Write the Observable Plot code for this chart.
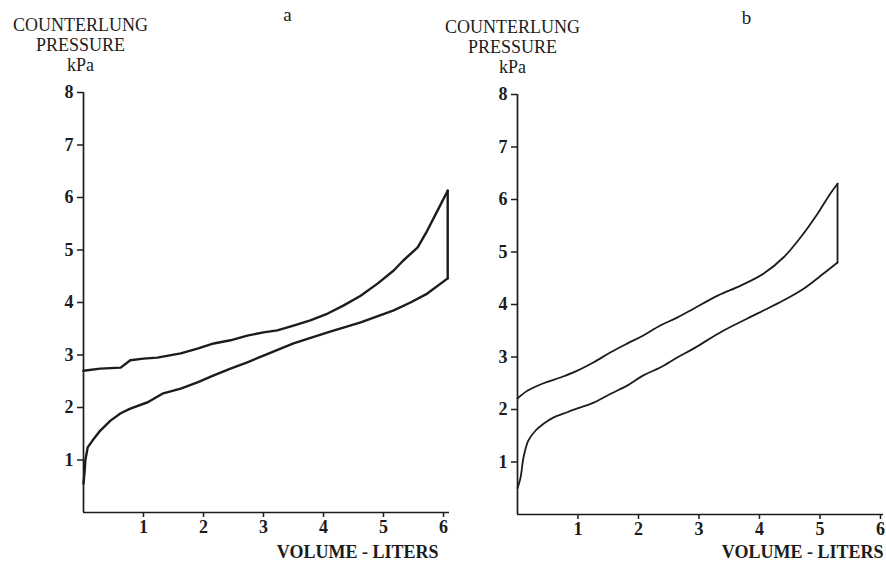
<!DOCTYPE html>
<html><head><meta charset="utf-8">
<script src="https://cdn.jsdelivr.net/npm/d3@7"></script>
<script src="https://cdn.jsdelivr.net/npm/@observablehq/plot@0.6"></script>
<style>
html,body{margin:0;padding:0;background:#fff;}
#wrap{position:relative;width:886px;height:563px;overflow:hidden;background:#fff;}
#wrap svg{position:absolute;top:0;overflow:visible;}
</style></head><body><div id="wrap"></div>
<script>
// Tick labels
const xTicks = [1, 2, 3, 4, 5, 6];
const yTicks = [1, 2, 3, 4, 5, 6, 7, 8];
const yHeader = "COUNTERLUNG\nPRESSURE\nkPa";
const xLabel = "VOLUME - LITERS";
const panelLetters = ["a", "b"];

// Panel a: lower (inspiratory) branch, volume in liters, pressure in kPa
const aLowerVolume   = [0, 0.02, 0.03, 0.07, 0.15, 0.28, 0.45, 0.62, 0.78, 1.07, 1.33, 1.62, 1.90, 2.17, 2.45, 2.73, 3.00, 3.50, 4.07, 4.62, 5.17, 5.45, 5.73, 6.07];
const aLowerPressure = [0.55, 0.80, 0.99, 1.24, 1.37, 1.56, 1.75, 1.89, 1.98, 2.10, 2.27, 2.36, 2.48, 2.61, 2.74, 2.86, 2.99, 3.22, 3.43, 3.62, 3.85, 4.00, 4.17, 4.46];
// Panel a: upper branch, from the peak back to zero volume
const aUpperVolume   = [6.07, 5.90, 5.73, 5.57, 5.33, 5.17, 4.90, 4.62, 4.33, 4.07, 3.78, 3.50, 3.23, 3.00, 2.73, 2.45, 2.17, 1.90, 1.62, 1.23, 1.00, 0.78, 0.62, 0.28, 0];
const aUpperPressure = [6.13, 5.75, 5.37, 5.05, 4.80, 4.61, 4.36, 4.13, 3.94, 3.79, 3.66, 3.56, 3.47, 3.43, 3.37, 3.28, 3.22, 3.12, 3.03, 2.95, 2.93, 2.90, 2.76, 2.74, 2.70];

// Panel b
const bLowerVolume   = [0, 0.05, 0.10, 0.18, 0.30, 0.43, 0.60, 0.76, 0.99, 1.26, 1.54, 1.82, 2.08, 2.36, 2.64, 2.91, 3.40, 3.97, 4.40, 4.73, 5.06, 5.29];
const bLowerPressure = [0.50, 0.70, 1.09, 1.41, 1.60, 1.73, 1.85, 1.92, 2.02, 2.13, 2.30, 2.46, 2.65, 2.80, 2.99, 3.16, 3.50, 3.83, 4.08, 4.30, 4.59, 4.80];
const bUpperVolume   = [5.29, 5.17, 4.96, 4.68, 4.40, 4.07, 3.69, 3.31, 2.91, 2.64, 2.36, 2.08, 1.82, 1.54, 1.26, 0.99, 0.71, 0.43, 0.17, 0];
const bUpperPressure = [6.30, 6.11, 5.73, 5.28, 4.90, 4.59, 4.36, 4.17, 3.92, 3.75, 3.60, 3.41, 3.26, 3.09, 2.90, 2.74, 2.61, 2.50, 2.36, 2.21];

const ink = "#1c1c1c";
const font = "'Liberation Serif', 'Times New Roman', Times, serif";

function panel(o) {
  const lower = o.lowerV.map((v, i) => ({v, p: o.lowerP[i]}));
  const upper = o.upperV.map((v, i) => ({v, p: o.upperP[i]}));
  const join = [lower[lower.length - 1], upper[0]];
  const svg = Plot.plot({
    width: o.width, height: 563,
    marginLeft: o.ml, marginRight: o.mr, marginTop: o.mt, marginBottom: o.mb,
    x: {domain: [0, o.xMax]},
    y: {domain: [0, 8]},
    style: {background: "transparent", fontFamily: font, color: ink, overflow: "visible"},
    marks: [
      Plot.ruleY([0], {x1: 0, x2: o.xMax, stroke: ink, strokeWidth: 1.7}),
      Plot.ruleX([0], {y1: 0, y2: 8, stroke: ink, strokeWidth: 1.7}),
      Plot.axisX({ticks: xTicks, tickSize: 5, tickPadding: 3, label: null, fontSize: 18, fontWeight: "bold", strokeWidth: 1.5, tickFormat: d => d}),
      Plot.axisY({ticks: yTicks, tickSize: 6, tickPadding: 4, label: null, fontSize: 18, fontWeight: "bold", strokeWidth: 1.5, tickFormat: d => d}),
      Plot.line(lower, {x: "v", y: "p", curve: o.curve, stroke: ink, strokeWidth: o.sw}),
      Plot.line(join, {x: "v", y: "p", stroke: ink, strokeWidth: o.sw}),
      Plot.line(upper, {x: "v", y: "p", curve: o.curve, stroke: ink, strokeWidth: o.sw}),
      Plot.text([yHeader], {frameAnchor: "top-left", dx: o.hdx, dy: o.hdy, lineAnchor: "bottom", textAnchor: "middle", fontSize: 18, lineHeight: 1.1, fill: ink}),
      Plot.text([o.letter], {frameAnchor: "top-left", dx: o.ldx, dy: o.ldy, lineAnchor: "bottom", textAnchor: "middle", fontSize: 19, fill: ink}),
      Plot.text([xLabel], {frameAnchor: "bottom-right", dx: o.xdx, dy: o.xdy, lineAnchor: "bottom", textAnchor: "end", fontSize: 18, fontWeight: "bold", fill: ink})
    ]
  });
  svg.style.left = o.left + "px";
  return svg;
}

const wrap = document.getElementById("wrap");
wrap.appendChild(panel({
  left: 0, width: 455, ml: 83, mr: 6, mt: 92, mb: 51, xMax: 6.1,
  lowerV: aLowerVolume, lowerP: aLowerPressure, upperV: aUpperVolume, upperP: aUpperPressure,
  curve: "linear", sw: 2.4, letter: panelLetters[0],
  hdx: -3, hdy: -22, ldx: 204, ldy: -72, xdx: -11, xdy: 45
}));
wrap.appendChild(panel({
  left: 430, width: 456, ml: 87, mr: 3, mt: 94, mb: 49, xMax: 6.05,
  lowerV: bLowerVolume, lowerP: bLowerPressure, upperV: bUpperVolume, upperP: bUpperPressure,
  curve: "catmull-rom", sw: 1.8, letter: panelLetters[1],
  hdx: -5, hdy: -22, ldx: 229, ldy: -71, xdx: 0, xdy: 43
}));
</script>
</body></html>
